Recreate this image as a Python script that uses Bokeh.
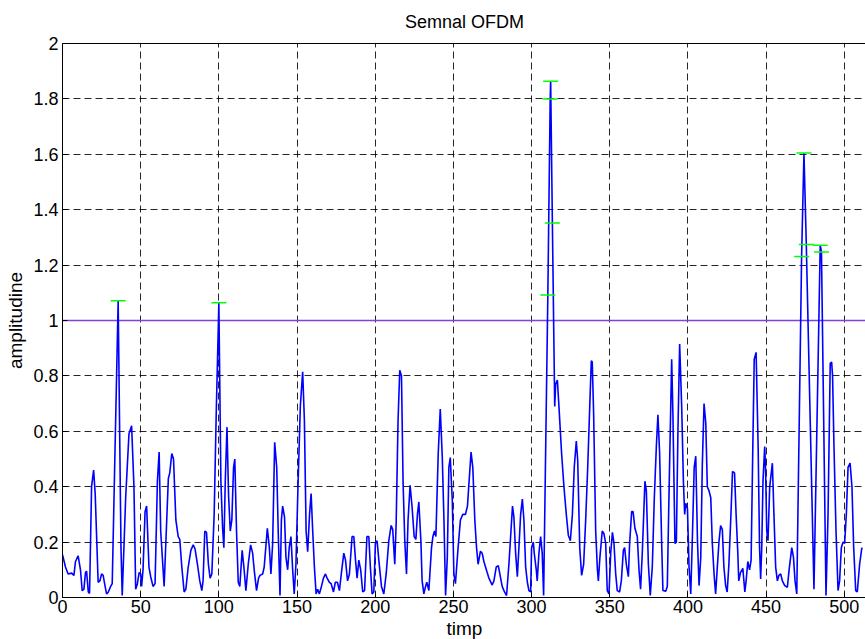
from bokeh.plotting import figure
from bokeh.models import FixedTicker
from bokeh.embed import file_html
from bokeh.resources import INLINE

TITLE = "Semnal OFDM"
X_LABEL = "timp"
Y_LABEL = "amplitudine"
THRESHOLD = 1.0
X_TICKS = [0, 50, 100, 150, 200, 250, 300, 350, 400, 450, 500]
Y_TICKS = [0, 0.2, 0.4, 0.6, 0.8, 1, 1.2, 1.4, 1.6, 1.8, 2]
Y_TICK_LABELS = ["0", "0.2", "0.4", "0.6", "0.8", "1", "1.2", "1.4", "1.6", "1.8", "2"]

# signal, in segments (time, amplitude)
t1 = [0, 1.9, 3.6, 5.8, 7.3, 8.3, 10, 11.5, 12.6, 13.7, 14.7, 15.4, 16.5, 17.3, 18.6, 19.9, 20.9, 22.8, 23.9, 25,
      26, 27.1, 28.2, 29.3, 30.8, 31.8, 35.6, 37.4, 38.2, 40.4, 42.5, 44.2, 45.7, 46.8, 47.9, 49, 50, 50.6, 51.5,
      52.8, 53.8, 55.3, 56.4, 57.9, 59.2, 60.7, 61.8]
a1 = [0.155, 0.11, 0.085, 0.088, 0.08, 0.13, 0.15, 0.1, 0.025, 0.03, 0.09, 0.095, 0.02, 0.015, 0.4, 0.46, 0.375, 0.055,
      0.06, 0.085, 0.08, 0.045, 0.013, 0.02, 0.04, 0.05, 1.071, 0.18, 0.007, 0.36, 0.59, 0.62, 0.4, 0.03, 0.05, 0.09,
      0.085, 0.04, 0.1, 0.31, 0.33, 0.11, 0.075, 0.04, 0.05, 0.42, 0.525]

t2 = [62.8, 65, 67.7, 68.6, 69.9, 71, 72.5, 74, 75, 76.3, 77.8, 78.9, 80.4, 82.1, 83.6, 84.8, 86.3, 87.8, 89.1, 89.9,
      91, 92.1, 93.3, 94.4, 95.5, 97, 98.3, 100, 101.3, 102.4, 103.2, 104.1, 105.2, 106.2, 107.3, 108.3, 109.4, 110.2,
      111.3, 112.4, 113.4, 114.9, 116, 117.3, 118.8, 120.3, 121.6, 122.6, 124.1]
a2 = [0.24, 0.04, 0.43, 0.45, 0.52, 0.5, 0.28, 0.22, 0.21, 0.11, 0.02, 0.03, 0.11, 0.17, 0.19, 0.175, 0.12, 0.06, 0.025,
      0.06, 0.24, 0.235, 0.12, 0.07, 0.085, 0.3, 0.66, 1.064, 0.42, 0.25, 0.18, 0.42, 0.615, 0.37, 0.24, 0.28, 0.47,
      0.5, 0.24, 0.055, 0.04, 0.17, 0.11, 0.025, 0.12, 0.19, 0.16, 0.1, 0.025]

t3 = [125.4, 126.3, 128, 129, 131, 132.3, 133.3, 134.4, 135.7, 137, 138, 139.1, 140, 140.8, 142, 142.9, 144, 145, 146.1,
      147.2, 148.2, 149.3, 150.6, 152.1, 153.6, 154.7, 155.8, 156.8, 158, 159, 160.1, 161.1, 162.2, 163.2, 164.3,
      165.6, 166.9, 168.2, 169.2, 170.7, 171.8, 173.3, 174.5, 175.8, 177.1, 178.4, 179.9, 181, 182.3, 183.5, 185.2,
      186.3, 187.4, 188.4]
a3 = [0.07, 0.08, 0.085, 0.11, 0.25, 0.18, 0.085, 0.195, 0.56, 0.47, 0.23, 0.007, 0.28, 0.33, 0.29, 0.145, 0.1, 0.18,
      0.22, 0.1, 0.013, 0.12, 0.4, 0.69, 0.815, 0.64, 0.24, 0.165, 0.3, 0.375, 0.23, 0.11, 0.013, 0.03, 0.013, 0.04,
      0.07, 0.085, 0.07, 0.055, 0.05, 0.02, 0.055, 0.055, 0.025, 0.09, 0.16, 0.135, 0.06, 0.085, 0.22, 0.22, 0.135,
      0.07]

t4 = [189.5, 190.7, 192, 193.2, 194.7, 195.9, 196.9, 198, 199.1, 200.1, 201.2, 202.3, 204, 205.5, 207, 208.7, 210.2,
      211.2, 212.5, 213.4, 214.6, 215.7, 216.8, 217.8, 218.9, 220, 221, 222.3, 223.6, 224.9, 226, 227, 227.9, 229.2,
      230, 231.1, 232.2, 233, 234.3, 236, 236.9, 237.9, 238.8, 240.3, 241.6, 242.9, 244, 245, 246.1, 247.1, 248,
      249.3, 250.3]
a4 = [0.135, 0.1, 0.02, 0.025, 0.22, 0.22, 0.11, 0.013, 0.02, 0.195, 0.205, 0.135, 0.04, 0.013, 0.085, 0.205, 0.26,
      0.245, 0.12, 0.27, 0.64, 0.82, 0.8, 0.42, 0.205, 0.085, 0.28, 0.405, 0.325, 0.22, 0.21, 0.3, 0.345, 0.205, 0.06,
      0.013, 0.04, 0.055, 0.025, 0.18, 0.22, 0.24, 0.22, 0.52, 0.68, 0.505, 0.27, 0.007, 0.145, 0.47, 0.505, 0.35,
      0.085]

t5 = [251.3, 253, 254.5, 256, 257.7, 259, 259.8, 261.3, 262.4, 263.7, 264.8, 265.8, 267.3, 268.4, 269.5, 271.6, 272.7,
      274.8, 275.9, 277.4, 278.7, 279.7, 281.2, 282.7, 284, 285.5, 286.6, 287.8, 288.7, 289.8, 290.9, 291.9, 293,
      294.1, 295.1, 296.2, 297.3, 298.3, 299.4, 300, 301.1, 301.7, 303, 303.6, 304.7, 305.8, 306.8, 307.7, 310.4,
      311.9, 312.2, 313.3, 314.8]
a5 = [0.05, 0.18, 0.28, 0.3, 0.3, 0.33, 0.4, 0.525, 0.47, 0.28, 0.18, 0.12, 0.167, 0.16, 0.13, 0.09, 0.07, 0.045, 0.06,
      0.11, 0.115, 0.085, 0.04, 0.02, 0.007, 0.12, 0.22, 0.33, 0.29, 0.16, 0.075, 0.18, 0.3, 0.355, 0.28, 0.11, 0.055,
      0.025, 0.02, 0.18, 0.2, 0.16, 0.1, 0.06, 0.16, 0.22, 0.16, 0.007, 1.092, 1.80, 1.864, 1.352, 0.69]

t6 = [315.4, 316.5, 317.5, 319.2, 320.7, 322.2, 323.5, 324.8, 326.1, 327.3, 328.6, 329.5, 330.8, 332, 333.3, 334.6,
      335.9, 337.2, 338.2, 338.8, 339.7, 341, 342.1, 342.7, 343.7, 345.2, 346.3, 347.4, 348.4, 349.5, 350.6, 351.7,
      352.7, 353.8, 354.8, 356.3, 357.4, 358.7, 359.5, 360.6, 361.9, 362.7, 364, 364.9, 366.1, 367.6, 368.7, 369.7,
      370.8, 372.5, 373.4, 374.7, 375.9, 377.2, 378.5, 379.8, 380.8]
a6 = [0.77, 0.785, 0.69, 0.52, 0.4, 0.3, 0.225, 0.205, 0.3, 0.47, 0.565, 0.495, 0.18, 0.08, 0.12, 0.28, 0.47, 0.69,
      0.855, 0.85, 0.66, 0.24, 0.1, 0.06, 0.145, 0.24, 0.23, 0.195, 0.025, 0.013, 0.16, 0.235, 0.195, 0.085, 0.025,
      0.02, 0.06, 0.17, 0.18, 0.12, 0.075, 0.195, 0.31, 0.31, 0.25, 0.22, 0.1, 0.03, 0.16, 0.42, 0.385, 0.12, 0.007,
      0.11, 0.36, 0.545, 0.66]

t7 = [381.9, 383.2, 384, 385.8, 386.8, 387.9, 389.6, 390.4, 391.7, 392.6, 393.6, 394.7, 396, 397.1, 397.9, 398.6,
      399.7, 400.7, 401.8, 402.9, 404, 405, 406.1, 407.1, 408.2, 409.2, 410.3, 411.4, 412.4, 413.5, 414.6, 415.6,
      416.7, 417.7, 418.8, 419.9, 420.9, 422, 423, 424.1, 425.1, 426.2, 427.5, 428.5, 429.8, 430.8, 431.9, 432.5,
      433.6, 435.1, 436.4, 437.2, 438.3, 439.4, 440.4, 441.5, 442.4, 443.6, 444.9, 445.8, 446.5, 447.2, 448, 449.1]
a7 = [0.52, 0.195, 0.025, 0.023, 0.04, 0.375, 0.86, 0.66, 0.195, 0.2, 0.6, 0.915, 0.69, 0.42, 0.3, 0.34, 0.32, 0.11,
      0.013, 0.23, 0.47, 0.51, 0.205, 0.043, 0.145, 0.48, 0.7, 0.63, 0.4, 0.385, 0.36, 0.195, 0.085, 0.013, 0.11,
      0.205, 0.26, 0.245, 0.11, 0.043, 0.02, 0.12, 0.3, 0.455, 0.45, 0.3, 0.16, 0.06, 0.09, 0.105, 0.02, 0.06, 0.13,
      0.1, 0.135, 0.545, 0.86, 0.885, 0.545, 0.18, 0.067, 0.18, 0.42, 0.545]

t8 = [449.7, 450.4, 451.2, 452.3, 454, 455, 456.1, 457.2, 458.2, 459.3, 460.4, 461.9, 463.6, 464.7, 466.4, 467.5,
      468.5, 469.6, 472.7, 474.2, 475.7, 480.6, 484.6, 485.4, 488.3, 489.6, 491, 491.9, 492.5, 493.4, 494.7, 496,
      497, 498.1, 499.2, 500.2, 501.3, 502.4, 503.7, 504.9, 506, 507.3, 508.3, 509.8, 511.1, 511.5]
a8 = [0.45, 0.24, 0.205, 0.4, 0.485, 0.3, 0.11, 0.06, 0.08, 0.085, 0.06, 0.043, 0.037, 0.1, 0.18, 0.145, 0.06, 0.013,
      1.231, 1.605, 1.274, 0.03, 1.272, 1.247, 0.007, 0.3, 0.845, 0.85, 0.8, 0.545, 0.24, 0.025, 0.06, 0.18, 0.2,
      0.195, 0.3, 0.47, 0.485, 0.4, 0.18, 0.025, 0.02, 0.12, 0.175, 0.18]

time = t1 + t2 + t3 + t4 + t5 + t6 + t7 + t8
amplitude = a1 + a2 + a3 + a4 + a5 + a6 + a7 + a8
for tt, aa in [(t1, a1), (t2, a2), (t3, a3), (t4, a4), (t5, a5), (t6, a6), (t7, a7), (t8, a8)]:
    assert len(tt) == len(aa), (len(tt), len(aa), tt[0])

peak_t = [t for t, a in zip(time, amplitude) if a > THRESHOLD]
peak_a = [a for a in amplitude if a > THRESHOLD]

FONT = "Liberation Sans"

p = figure(frame_width=804, frame_height=554, x_range=(0, 514.2), y_range=(0, 2),
           output_backend="svg", toolbar_location=None,
           min_border_left=62, min_border_right=0, min_border_top=43, min_border_bottom=42,
           title=TITLE)
p.title.align = "center"
p.title.vertical_align = "top"
p.title.text_font = FONT
p.title.text_font_size = "18px"
p.title.text_font_style = "normal"
p.title.text_color = "black"
p.title.standoff = 20
p.background_fill_color = "white"
p.border_fill_color = "white"
p.outline_line_color = "black"
p.outline_line_alpha = 1
p.outline_line_width = 1

p.xaxis.ticker = FixedTicker(ticks=X_TICKS)
p.yaxis.ticker = FixedTicker(ticks=Y_TICKS)
p.yaxis.major_label_overrides = dict(zip(Y_TICKS, Y_TICK_LABELS))
p.xaxis.axis_label = X_LABEL
p.yaxis.axis_label = Y_LABEL
for ax in p.axis:
    ax.axis_line_color = "black"
    ax.axis_line_width = 1
    ax.major_tick_in = 5
    ax.major_tick_out = 0
    ax.major_tick_line_color = "black"
    ax.minor_tick_in = 0
    ax.minor_tick_out = 0
    ax.major_label_text_font = FONT
    ax.major_label_text_font_size = "18px"
    ax.major_label_text_color = "black"
    ax.axis_label_text_font = FONT
    ax.axis_label_text_font_size = "19px"
    ax.axis_label_text_font_style = "normal"
    ax.axis_label_text_color = "black"
p.xaxis.major_label_standoff = 2
p.xaxis.axis_label_standoff = 2
p.yaxis.major_label_standoff = 4
p.yaxis.axis_label_standoff = 4

p.grid.grid_line_color = "black"
p.grid.grid_line_alpha = 0.85
p.grid.grid_line_width = 1
p.grid.grid_line_dash = "7 4"

p.hspan(y=[THRESHOLD], line_color="#8040e0", line_width=1.5)
p.line(time, amplitude, line_color="#0000ff", line_width=1.6)
p.scatter(peak_t, peak_a, marker="dash", size=15, line_color="#00ff00", line_width=1.5)

open("out.html", "w").write(file_html(p, INLINE))
